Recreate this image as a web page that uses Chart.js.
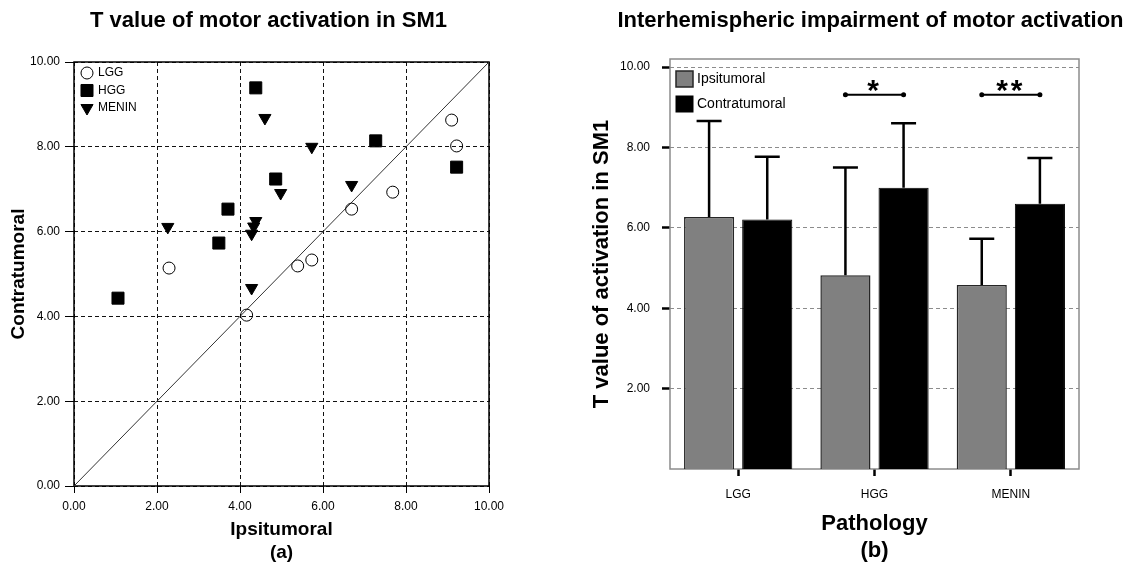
<!DOCTYPE html>
<html>
<head>
<meta charset="utf-8">
<title>Motor activation in SM1</title>
<script src="https://cdn.jsdelivr.net/npm/chart.js@4"></script>
<style>
  html, body { margin: 0; padding: 0; background: #fff; overflow: hidden; }
  #wrap { position: relative; width: 1132px; height: 564px; }
  .panel { position: absolute; top: 0; width: 566px; height: 564px; }
  #panelA { left: 0; }
  #panelB { left: 566px; }
</style>
</head>
<body>
<div id="wrap">
  <div class="panel" id="panelA"><canvas id="scatterChart"></canvas></div>
  <div class="panel" id="panelB"><canvas id="barChart"></canvas></div>
</div>
<script>
// (a) T value per patient: ipsitumoral (x) vs contratumoral (y)
const lggIpsi = [2.29, 4.16, 5.39, 5.73, 6.69, 7.68, 9.10, 9.22];
const lggContra = [5.14, 4.03, 5.19, 5.33, 6.53, 6.93, 8.63, 8.02];
const hggIpsi = [1.06, 3.49, 3.71, 4.38, 4.86, 7.27, 9.22];
const hggContra = [4.43, 5.73, 6.53, 9.39, 7.24, 8.14, 7.52];
const meninIpsi = [2.26, 4.28, 4.28, 4.33, 4.38, 4.60, 4.98, 5.73, 6.69];
const meninContra = [6.11, 4.67, 5.95, 6.12, 6.25, 8.68, 6.91, 8.00, 7.10];
const axisTicks = [0, 2, 4, 6, 8, 10];

// (b) group means and upper error limits
const pathologies = ['LGG', 'HGG', 'MENIN'];
const ipsiMean = [6.27, 4.82, 4.58];
const ipsiUpper = [8.66, 7.50, 5.73];
const contraMean = [6.21, 7.00, 6.60];
const contraUpper = [7.77, 8.60, 7.74];
const barTicks = [2, 4, 6, 8, 10];
const sigGroups = ['HGG', 'MENIN'];
const sigLabels = ['*', '**'];
const sigLevel = [9.31, 9.31];

Chart.defaults.font.family = "'Liberation Sans', Arial, Helvetica, sans-serif";
Chart.defaults.color = '#000';
Chart.defaults.animation = false;

const toXY = (xs, ys) => xs.map((v, i) => ({ x: v, y: ys[i] }));
const fixed2 = v => Number(v).toFixed(2);

// panel title, centred over the plot (the built-in one squeezes long text)
const panelTitle = {
  id: 'panelTitle',
  afterDraw(chart, args, opts) {
    const { ctx, chartArea } = chart;
    ctx.save();
    ctx.font = opts.font;
    ctx.fillStyle = '#000';
    ctx.textAlign = 'center';
    ctx.textBaseline = 'middle';
    ctx.fillText(opts.text, (chartArea.left + chartArea.right) / 2 + opts.shift, opts.y);
    ctx.restore();
  }
};

// box around the plot area
const chartFrame = {
  id: 'chartFrame',
  beforeDatasetsDraw(chart, args, opts) {
    const { ctx, chartArea: a } = chart;
    ctx.save();
    ctx.strokeStyle = opts.color;
    ctx.lineWidth = opts.width;
    ctx.strokeRect(a.left, a.top, a.right - a.left, a.bottom - a.top);
    ctx.restore();
  }
};

// legend drawn inside the top left corner of the plot
const insetLegend = {
  id: 'insetLegend',
  afterDatasetsDraw(chart, args, opts) {
    const { ctx, chartArea } = chart;
    const items = chart.data.datasets.filter(ds => ds.label);
    ctx.save();
    ctx.font = opts.font;
    ctx.textBaseline = 'middle';
    items.forEach((ds, i) => {
      const x = chartArea.left + opts.left;
      const y = chartArea.top + opts.top + i * opts.rowHeight;
      ctx.fillStyle = ds.backgroundColor;
      ctx.strokeStyle = ds.borderColor;
      ctx.lineWidth = ds.borderWidth;
      if (chart.config.type === 'bar') {
        ctx.fillRect(x, y - opts.boxHeight / 2, opts.boxWidth, opts.boxHeight);
        ctx.strokeRect(x, y - opts.boxHeight / 2, opts.boxWidth, opts.boxHeight);
      } else {
        Chart.helpers.drawPoint(ctx, {
          pointStyle: ds.pointStyle,
          radius: ds.pointRadius,
          rotation: ds.pointRotation || 0,
          borderWidth: ds.borderWidth
        }, x + opts.boxWidth / 2, y);
      }
      ctx.fillStyle = '#000';
      ctx.fillText(ds.label, x + opts.boxWidth + opts.gap, y);
    });
    ctx.restore();
  }
};

// upper error bars from dataset.upper
const errorBars = {
  id: 'errorBars',
  afterDatasetsDraw(chart, args, opts) {
    const { ctx, scales: { y } } = chart;
    ctx.save();
    ctx.strokeStyle = opts.color;
    ctx.lineWidth = opts.width;
    chart.data.datasets.forEach((ds, di) => {
      chart.getDatasetMeta(di).data.forEach((bar, i) => {
        const top = y.getPixelForValue(ds.upper[i]);
        ctx.beginPath();
        ctx.moveTo(bar.x, bar.y);
        ctx.lineTo(bar.x, top);
        ctx.moveTo(bar.x - opts.cap / 2, top);
        ctx.lineTo(bar.x + opts.cap / 2, top);
        ctx.stroke();
      });
    });
    ctx.restore();
  }
};

// significance lines between the two bars of a group
const sigBrackets = {
  id: 'sigBrackets',
  afterDatasetsDraw(chart, args, opts) {
    const { ctx, scales: { y } } = chart;
    const ipsi = chart.getDatasetMeta(0).data;
    const contra = chart.getDatasetMeta(1).data;
    ctx.save();
    ctx.strokeStyle = '#000';
    ctx.fillStyle = '#000';
    ctx.lineWidth = opts.width;
    sigGroups.forEach((g, k) => {
      const i = pathologies.indexOf(g);
      const x0 = ipsi[i].x, x1 = contra[i].x;
      const yy = y.getPixelForValue(sigLevel[k]);
      ctx.beginPath();
      ctx.moveTo(x0, yy);
      ctx.lineTo(x1, yy);
      ctx.stroke();
      [x0, x1].forEach(px => {
        ctx.beginPath();
        ctx.arc(px, yy, opts.dot, 0, Math.PI * 2);
        ctx.fill();
      });
      ctx.font = opts.font;
      ctx.letterSpacing = opts.spacing;
      ctx.textAlign = 'center';
      ctx.textBaseline = 'middle';
      ctx.fillText(sigLabels[k], (x0 + x1) / 2, yy - opts.lift);
    });
    ctx.restore();
  }
};

// ---- (a) scatter ----
new Chart(document.getElementById('scatterChart'), {
  type: 'scatter',
  data: {
    datasets: [
      {
        label: 'LGG',
        data: toXY(lggIpsi, lggContra),
        pointStyle: 'circle',
        pointRadius: 6,
        backgroundColor: 'rgba(255,255,255,0)',
        borderColor: '#000',
        borderWidth: 1
      },
      {
        label: 'HGG',
        data: toXY(hggIpsi, hggContra),
        pointStyle: 'rect',
        pointRadius: 8.5,
        backgroundColor: '#000',
        borderColor: '#000',
        borderWidth: 1
      },
      {
        label: 'MENIN',
        data: toXY(meninIpsi, meninContra),
        pointStyle: 'triangle',
        pointRotation: 180,
        pointRadius: 7,
        backgroundColor: '#000',
        borderColor: '#000',
        borderWidth: 1
      },
      {
        // line of equality
        label: '',
        data: toXY([axisTicks[0], axisTicks[axisTicks.length - 1]], [axisTicks[0], axisTicks[axisTicks.length - 1]]),
        showLine: true,
        pointRadius: 0,
        borderColor: '#333',
        borderWidth: 1
      }
    ]
  },
  options: {
    responsive: true,
    maintainAspectRatio: false,
    layout: { padding: { left: 0, right: 77, top: 62, bottom: 0 } },
    plugins: {
      legend: { display: false },
      tooltip: { enabled: false },
      panelTitle: {
        text: 'T value of motor activation in SM1',
        font: "bold 22px 'Liberation Sans', Arial, sans-serif",
        shift: -13,
        y: 21
      },
      chartFrame: { color: '#000', width: 1.5 },
      insetLegend: { left: 7, top: 11, rowHeight: 17.5, boxWidth: 12, gap: 5, font: "12px 'Liberation Sans', Arial, sans-serif" }
    },
    scales: {
      x: {
        type: 'linear',
        min: 0,
        max: 10,
        afterBuildTicks: s => { s.ticks = axisTicks.map(v => ({ value: v })); },
        afterFit: s => { s.height = 78; },
        ticks: { callback: fixed2, font: { size: 12 }, padding: 6, maxRotation: 0 },
        grid: { color: '#111', lineWidth: 1, tickLength: 7, tickColor: '#000', tickWidth: 1 },
        border: { display: false, dash: [4, 3] },
        title: {
          display: true,
          text: ['Ipsitumoral', '(a)'],
          font: { size: 19, weight: 'bold', lineHeight: 1.2 },
          padding: { top: 0, bottom: 0 }
        }
      },
      y: {
        type: 'linear',
        min: 0,
        max: 10,
        afterBuildTicks: s => { s.ticks = axisTicks.map(v => ({ value: v })); },
        afterFit: s => { s.width = 74; },
        ticks: { callback: fixed2, font: { size: 12 }, padding: 5 },
        grid: { color: '#111', lineWidth: 1, tickLength: 9, tickColor: '#000', tickWidth: 1 },
        border: { display: false, dash: [4, 3] },
        title: {
          display: true,
          text: 'Contratumoral',
          font: { size: 19, weight: 'bold' },
          padding: { top: 7, bottom: 0 }
        }
      }
    }
  },
  plugins: [panelTitle, chartFrame, insetLegend]
});

// ---- (b) bars ----
new Chart(document.getElementById('barChart'), {
  type: 'bar',
  data: {
    labels: pathologies,
    datasets: [
      {
        label: 'Ipsitumoral',
        data: ipsiMean,
        upper: ipsiUpper,
        backgroundColor: '#808080',
        borderColor: '#262626',
        borderWidth: 1.5,
        categoryPercentage: 0.853,
        barPercentage: 0.862
      },
      {
        label: 'Contratumoral',
        data: contraMean,
        upper: contraUpper,
        backgroundColor: '#000',
        borderColor: '#000',
        borderWidth: 1,
        categoryPercentage: 0.853,
        barPercentage: 0.862
      }
    ]
  },
  options: {
    responsive: true,
    maintainAspectRatio: false,
    layout: { padding: { left: 0, right: 53, top: 59, bottom: 0 } },
    plugins: {
      legend: { display: false },
      tooltip: { enabled: false },
      panelTitle: {
        text: 'Interhemispheric impairment of motor activation',
        font: "bold 22px 'Liberation Sans', Arial, sans-serif",
        shift: -4,
        y: 21
      },
      chartFrame: { color: '#8c8c8c', width: 1.5 },
      insetLegend: { left: 6, top: 20, rowHeight: 25, boxWidth: 17, boxHeight: 16, gap: 4, font: "14px 'Liberation Sans', Arial, sans-serif" },
      errorBars: { color: '#000', width: 2.5, cap: 25 },
      sigBrackets: { width: 2, dot: 2.5, lift: 3, spacing: '3px', font: "bold 30px 'Liberation Sans', Arial, sans-serif" }
    },
    scales: {
      x: {
        type: 'category',
        offset: true,
        afterFit: s => { s.height = 95; },
        ticks: { font: { size: 12 }, padding: 11 },
        grid: { offset: false, drawOnChartArea: false, tickLength: 7, tickColor: '#000', tickWidth: 2.5 },
        border: { display: false },
        title: {
          display: true,
          text: ['Pathology', '(b)'],
          font: { size: 22, weight: 'bold', lineHeight: 1.2 },
          padding: { top: 0, bottom: 0 }
        }
      },
      y: {
        min: 0,
        max: 10.2,
        afterBuildTicks: s => { s.ticks = barTicks.map(v => ({ value: v })); },
        afterFit: s => { s.width = 104; },
        ticks: { callback: fixed2, font: { size: 12 }, padding: 12 },
        grid: { color: '#8c8c8c', lineWidth: 1, tickLength: 8, tickColor: '#000', tickWidth: 2.5 },
        border: { display: false, dash: [4, 3] },
        title: {
          display: true,
          text: 'T value of activation in SM1',
          font: { size: 22, weight: 'bold' },
          padding: { top: 23, bottom: 0 }
        }
      }
    }
  },
  plugins: [panelTitle, chartFrame, insetLegend, errorBars, sigBrackets]
});
</script>
</body>
</html>
